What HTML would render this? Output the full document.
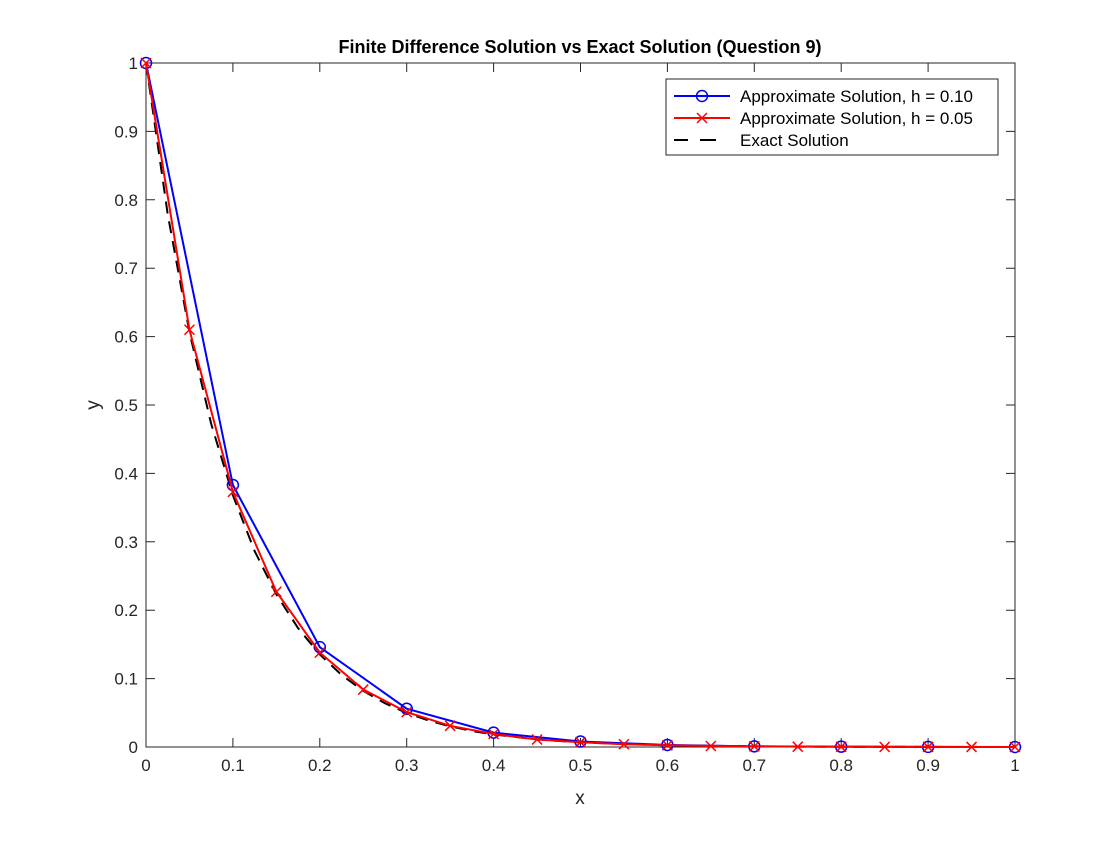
<!DOCTYPE html>
<html><head><meta charset="utf-8"><style>
body{margin:0;background:#fff;}
svg text{font-family:"Liberation Sans",Arial,sans-serif;}
</style></head><body>
<svg id="chart" width="1120" height="840">
<rect width="1120" height="840" fill="#fff"/>
<g id="plot"></g>
</svg>
<script>
const xTicks=[0,0.1,0.2,0.3,0.4,0.5,0.6,0.7,0.8,0.9,1];
const yTicks=[0,0.1,0.2,0.3,0.4,0.5,0.6,0.7,0.8,0.9,1];
const xTickLabels=["0","0.1","0.2","0.3","0.4","0.5","0.6","0.7","0.8","0.9","1"];
const yTickLabels=["0","0.1","0.2","0.3","0.4","0.5","0.6","0.7","0.8","0.9","1"];
const xA=[0,0.1,0.2,0.3,0.4,0.5,0.6,0.7,0.8,0.9,1];
const yA=[1,0.383,0.146,0.056,0.021,0.008,0.003,0.001,0.0005,0.0002,0];
const xB=[0,0.05,0.1,0.15,0.2,0.25,0.3,0.35,0.4,0.45,0.5,0.55,0.6,0.65,0.7,0.75,0.8,0.85,0.9,0.95,1];
const yB=[1,0.61,0.373,0.227,0.138,0.084,0.051,0.031,0.019,0.011,0.007,0.004,0.0025,0.0015,0.0009,0.0005,0.0003,0.0002,0.0001,0.00005,0];
const xE=[0,0.025,0.05,0.075,0.1,0.125,0.15,0.175,0.2,0.225,0.25,0.275,0.3,0.325,0.35,0.375,0.4,0.45,0.5,0.6,0.7,0.8,0.9,1];
const yE=[1,0.7788,0.6065,0.4724,0.3679,0.2865,0.2231,0.1738,0.1353,0.1054,0.0821,0.0639,0.0498,0.0388,0.0302,0.0235,0.0183,0.0111,0.0067,0.0025,0.0009,0.0003,0.0001,0];
const L=146,R=1015,T=63,B=747;
const sx=v=>L+(R-L)*v, sy=v=>B-(B-T)*v;
const NS="http://www.w3.org/2000/svg";
const g=document.getElementById('plot');
function mk(t,a,p){const e=document.createElementNS(NS,t);for(const k in a)e.setAttribute(k,a[k]);(p||g).appendChild(e);return e;}
// axes box
let box=mk('rect',{x:L,y:T,width:R-L,height:B-T,fill:'none',stroke:'#262626','stroke-width':1});


xTicks.forEach((v,i)=>{const x=sx(v);
 let t=mk('path',{d:`M${x},${B}V${B-9}M${x},${T}V${T+9}`,stroke:'#262626'});
 
 
 let l=mk('text',{x:x,y:B+24,'text-anchor':'middle','font-size':17,fill:'#262626'});l.textContent=xTickLabels[i];
 
 
});
yTicks.forEach((v,i)=>{const y=sy(v);
 let t=mk('path',{d:`M${L},${y}H${L+9}M${R},${y}H${R-9}`,stroke:'#262626'});
 
 
 let l=mk('text',{x:L-8,y:y+6,'text-anchor':'end','font-size':17,fill:'#262626'});l.textContent=yTickLabels[i];
 
 
});
function pts(xs,ys){return xs.map((v,i)=>sx(v)+','+sy(ys[i])).join(' ');}
let le=mk('polyline',{points:pts(xE,yE),fill:'none',stroke:'#000','stroke-width':2,'stroke-dasharray':'12,8'});


let la=mk('polyline',{points:pts(xA,yA),fill:'none',stroke:'#0000ff','stroke-width':2});


xA.forEach((v,i)=>{let c=mk('circle',{cx:sx(v),cy:sy(yA[i]),r:5.5,fill:'none',stroke:'#0000ff','stroke-width':1.5});
 
 });
let lb=mk('polyline',{points:pts(xB,yB),fill:'none',stroke:'#ff0000','stroke-width':2});


xB.forEach((v,i)=>{const x=sx(v),y=sy(yB[i]);let c=mk('path',{d:`M${x-5},${y-5}L${x+5},${y+5}M${x-5},${y+5}L${x+5},${y-5}`,stroke:'#ff0000','stroke-width':1.5});
 
 });
// title & labels
let tt=mk('text',{x:580,y:53,'text-anchor':'middle','font-size':18,'font-weight':'bold',fill:'#000'});tt.textContent='Finite Difference Solution vs Exact Solution (Question 9)';


let xl=mk('text',{x:580,y:804,'text-anchor':'middle','font-size':19,fill:'#262626'});xl.textContent='x';


let yl=mk('text',{x:0,y:0,'text-anchor':'middle','font-size':19,fill:'#262626',transform:'translate(99,405) rotate(-90)'});yl.textContent='y';


// legend
const lg=mk('g',{});


mk('rect',{x:666,y:79,width:332,height:76,fill:'#fff',stroke:'#262626'},lg);
const ent=[['Approximate Solution, h = 0.10','#0000ff','o',96],['Approximate Solution, h = 0.05','#ff0000','x',118],['Exact Solution','#000','d',140]];
ent.forEach(e=>{const y=e[3];
 const eg=mk('g',{},lg);
 
 
 if(e[2]==='d'){mk('path',{d:`M674,${y}H688M700,${y}H716`,stroke:'#000','stroke-width':2},eg);}
 else{mk('path',{d:`M674,${y}H730`,stroke:e[1],'stroke-width':2},eg);
  if(e[2]==='o')mk('circle',{cx:702,cy:y,r:5.5,fill:'none',stroke:e[1],'stroke-width':1.5},eg);
  else mk('path',{d:`M697,${y-5}L707,${y+5}M697,${y+5}L707,${y-5}`,stroke:e[1],'stroke-width':1.5},eg);}
 const t=mk('text',{x:740,y:y+6,'font-size':17,fill:'#000'},eg);t.textContent=e[0];
});
</script>
</body></html>
